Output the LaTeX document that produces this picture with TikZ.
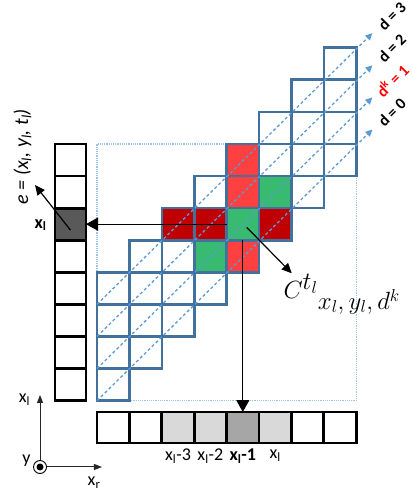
\documentclass[tikz,border=0pt]{standalone}
\usepackage{fontspec}
\setmainfont{Carlito}
\usetikzlibrary{arrows.meta,positioning,calc}
\definecolor{GridBlue}{RGB}{65,113,156}
\definecolor{DiagBlue}{RGB}{91,155,213}
\definecolor{FrameBlue}{RGB}{157,195,230}
\definecolor{DarkRed}{RGB}{192,0,0}
\definecolor{LightRed}{RGB}{255,64,64}
\definecolor{CostGreen}{RGB}{56,187,112}
\definecolor{DarkGray}{RGB}{89,89,89}
\definecolor{MidGray}{RGB}{166,166,166}
\definecolor{LightGray}{RGB}{217,217,217}
\newcommand{\lsub}[1]{\textsubscript{#1}}
\tikzset{
  vcell/.style={rectangle,draw=black,line width=2.8pt,minimum width=31pt,
                minimum height=32.1pt,inner sep=0pt,outer sep=0pt},
  hcell/.style={vcell,minimum width=32.4pt,minimum height=31pt},
  cfill/.style={rectangle,minimum width=32.4pt,minimum height=32.1pt,
                inner sep=0pt,outer sep=0pt},
  gcell/.style={draw=GridBlue,line width=2.6pt},
  diag/.style={DiagBlue,line width=1.3pt,dash pattern=on 3pt off 2.5pt,
               -{Triangle[length=7pt,width=6.5pt]}},
  ptr/.style={black,line width=1.3pt,-{Triangle[length=12pt,width=13pt]}},
  sptr/.style={black,line width=1.2pt,-{Triangle[length=10pt,width=9pt]}},
  axptr/.style={black!85,line width=1pt,-{Triangle[length=8pt,width=6pt]}},
  dlab/.style={font=\fontsize{16}{16}\selectfont\bfseries,rotate=45,inner sep=0pt},
  xlab/.style={font=\fontsize{18}{18}\selectfont,inner sep=0pt},
}

\begin{document}
\begin{tikzpicture}[x=32.4pt,y=32.1pt]
  \useasboundingbox (-2.994,-2.875) rectangle (9.722,12.483);
  % 8x8 frame
  \draw[FrameBlue,line width=1.2pt,densely dotted] (0,0) rectangle (8,8);
  % costs along row, column and disparity
  \foreach \c/\r/\col in {4/7/LightRed,4/6/LightRed,4/4/LightRed,
                          5/6/CostGreen,3/4/CostGreen,
                          2/5/DarkRed,3/5/DarkRed,5/5/DarkRed}
    \fill[\col] (\c,\r) rectangle ++(1,1);
  \node[cfill,fill=CostGreen] (cen) at (4.5,5.5) {};
  % disparity band
  \foreach \c in {0,...,7}
    \foreach \d in {0,...,3}
      \draw[gcell] (\c,\c+\d) rectangle ++(1,1);
  \foreach \d in {0,...,3}
    \draw[diag] (0,\d) -- (8.5,8.45+\d);
  \node[dlab] (d0) at (9.1,8.98) {d = 0};
  \node[dlab,red] (d1) at (9.1,9.98) {d\textsuperscript{k} = 1};
  \node[dlab] (d2) at (9.1,10.98) {d = 2};
  \node[dlab] (d3) at (9.1,11.98) {d = 3};
  % left and bottom scanlines
  \foreach \r/\f in {0/white,1/white,2/white,3/white,4/white,5/DarkGray,6/white,7/white}
    \node[vcell,fill=\f] (L\r) at (-0.818,\r+0.5) {};
  \foreach \c/\f in {0/white,1/white,2/LightGray,3/LightGray,4/MidGray,5/LightGray,6/white,7/white}
    \node[hcell,fill=\f] (B\c) at (\c+0.5,-0.835) {};
  \node[xlab] (bl2) at (2.5,-1.72) {x\lsub{l}-3};
  \node[xlab] (bl3) at (3.5,-1.72) {x\lsub{l}-2};
  \node[xlab,font=\fontsize{18}{18}\selectfont\bfseries] (bl4) at (4.5,-1.72) {x\lsub{l}-1};
  \node[xlab] (bl5) at (5.5,-1.72) {x\lsub{l}};
  % pointers
  \draw[ptr] (cen.west) -- (L5.east);
  \draw[ptr] (cen.south) -- (B4.north);
  \coordinate (ctip) at (6.01,3.97);
  \node[anchor=north west,inner sep=0pt,font=\fontsize{38}{38}\selectfont] (cost)
    at (5.75,3.95) {$C^{t_l}{}_{x_l,\,y_l,\,d^k}$};
  \draw[sptr] ([shift={(0.12,-0.1)}]cen.center) -- (ctip);
  \coordinate (etip) at (-1.914,6.72);
  \draw[sptr] ([yshift=-6pt]L5.center) -- (etip);
  \node[xlab,font=\fontsize{18}{18}\selectfont\bfseries] (xlL) at (-1.74,5.47) {x\lsub{l}};
  \node[xlab,font=\fontsize{20}{20}\selectfont\itshape,rotate=90] (ev) at (-2.3,7.6)
    {e = (x\lsub{l}, y\lsub{l}, t\lsub{l})};
  % axes
  \node[circle,draw,line width=0.9pt,minimum size=13pt,inner sep=0pt] (org) at (-1.759,-2.065) {};
  \fill (org.center) circle (3.5pt);
  \coordinate (xlt) at (-1.759,0.178);
  \coordinate (xrt) at (0.154,-2.065);
  \draw[axptr] (org.north) -- (xlt);
  \draw[axptr] (org.east) -- (xrt);
  \node[xlab] (axl) at (-2.24,0.02) {x\lsub{l}};
  \node[xlab] (axy) at (-2.18,-1.88) {y};
  \node[xlab] (axr) at (-0.09,-2.55) {x\lsub{r}};
\end{tikzpicture}
\end{document}
